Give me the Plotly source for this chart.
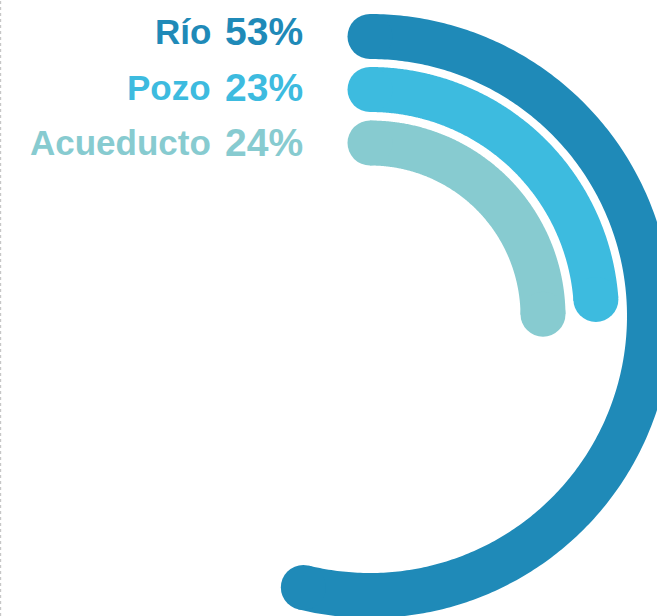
import numpy as np
import plotly.graph_objects as go

# data
categories = ["Río", "Pozo", "Acueducto"]
shares = [53, 23, 24]  # percent
colors = ["#1F8AB8", "#3DBBDF", "#87CBD0"]

W, H = 657, 616
CX, CY = 370, 316          # centre of rings, px from left/top
RING_R = [279.5, 226.5, 173]
RING_W = 45
END_PAD = 3                # extra degrees the original adds at the arc end
FONT = "Liberation Sans, Arial, sans-serif"

fig = go.Figure()

for name, share, color, radius in zip(categories, shares, colors, RING_R):
    end = np.radians(share * 3.6 + END_PAD)
    ang = np.linspace(0, end, 300)
    fig.add_trace(
        go.Scatter(
            x=radius * np.sin(ang),
            y=radius * np.cos(ang),
            mode="lines",
            line={"color": color, "width": RING_W, "simplify": False},
            hoverinfo="skip",
            showlegend=False,
        )
    )
    # round caps at both ends
    fig.add_trace(
        go.Scatter(
            x=radius * np.sin([0, end]),
            y=radius * np.cos([0, end]),
            mode="markers",
            marker={"color": color, "size": RING_W, "line": {"width": 0}},
            name=name,
            hovertemplate=f"{name}: {share}%<extra></extra>",
            showlegend=False,
        )
    )

row_y = [31, 87, 143]
annotations = []
for name, share, color, y in zip(categories, shares, colors, row_y):
    yp = (H - y) / H
    annotations.append(
        {
            "text": f"<b>{name}</b>",
            "x": 213 / W,
            "y": yp,
            "xref": "paper",
            "yref": "paper",
            "xanchor": "right",
            "yanchor": "middle",
            "showarrow": False,
            "font": {"family": FONT, "size": 35, "color": color},
        }
    )
    annotations.append(
        {
            "text": f"<b>{share}%</b>",
            "x": 305 / W,
            "y": yp,
            "xref": "paper",
            "yref": "paper",
            "xanchor": "right",
            "yanchor": "middle",
            "showarrow": False,
            "font": {"family": FONT, "size": 39, "color": color},
        }
    )

fig.update_layout(
    width=W,
    height=H,
    autosize=False,
    margin={"l": 0, "r": 0, "t": 0, "b": 0},
    paper_bgcolor="white",
    plot_bgcolor="white",
    xaxis={"range": [-CX, W - CX], "visible": False, "fixedrange": True},
    yaxis={"range": [CY - H, CY], "visible": False, "fixedrange": True},
    annotations=annotations,
    shapes=[
        {
            "type": "line",
            "xref": "paper",
            "yref": "paper",
            "x0": 0.001,
            "x1": 0.001,
            "y0": 0,
            "y1": 1,
            "line": {"color": "#BDBDBD", "width": 1, "dash": "dot"},
        }
    ],
)

fig.write_html(
    "out.html",
    config={"displayModeBar": False},
    post_script="document.body.style.margin='0';",
)
